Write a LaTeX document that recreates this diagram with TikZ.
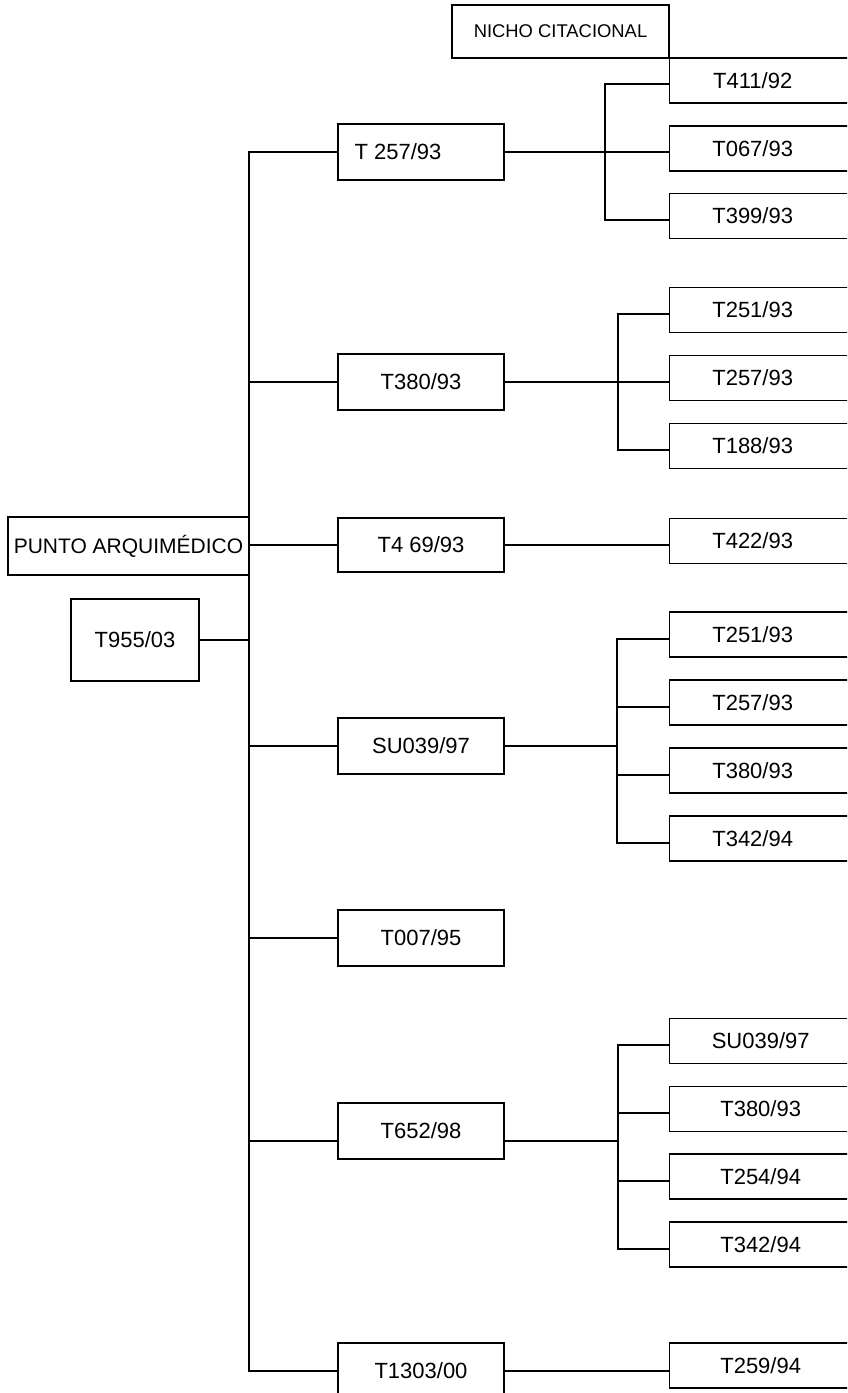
\documentclass[tikz,border=0pt]{standalone}
\usepackage{fontspec}
\setmainfont{Liberation Sans}
\newcommand\rl[1]{\makebox[166pt]{#1}\hspace*{80pt}}
\newcommand\rlb[1]{\makebox[182pt]{#1}\hspace*{64pt}}
\begin{document}
\begin{tikzpicture}[x=1pt,y=-1pt, line width=1.4pt,
  box/.style={draw, line width=1.4pt, inner sep=0pt, font=\fontsize{22}{26}\selectfont},
  mbox/.style={box, minimum width=166pt, minimum height=55pt},
  rbox/.style={box, anchor=west, minimum height=45pt}]
\useasboundingbox (0,0) rectangle (847,1393);
\clip (0,0) rectangle (847,1393);
\coordinate (trunk) at (249,0);

% left boxes
\node[box, minimum width=217pt, minimum height=53pt, font=\fontsize{18.4}{22}\selectfont] (nicho) at (560.5,31.5) {NICHO CITACIONAL};
\node[box, minimum width=241pt, minimum height=58pt, font=\fontsize{21}{25}\selectfont] (punto) at (128.5,546) {PUNTO ARQUIMÉDICO};
\node[box, minimum width=128pt, minimum height=82pt] (t955) at (135,640) {T955/03};

% main column
\node[mbox, minimum height=56pt] (m1) at (421,152) {T 257/93\hspace*{46pt}};
\node[mbox, minimum height=56pt] (m2) at (421,382) {T380/93};
\node[mbox, minimum height=54pt] (m3) at (421,545) {T4 69/93};
\node[mbox, minimum height=56pt] (m4) at (421,746) {SU039/97};
\node[mbox, minimum height=56pt] (m5) at (421,938) {T007/95};
\node[mbox, minimum height=56pt] (m6) at (421,1131) {T652/98};
\node[mbox, minimum height=56pt] (m7) at (421,1371) {T1303/00};
\coordinate (l6) at (0,1141);

% trunk
\draw (m1.west) -- (m1.west -| trunk) -- (m7.west -| trunk) -- (m7.west);
\foreach \n in {m2,m4,m5} \draw (\n.west) -- (\n.west -| trunk);
\draw (trunk |- l6) -- (m6.west |- l6);
\draw (m3.west -| punto.east) -- (m3.west);
\draw (t955.east) -- (t955.east -| trunk);

% group 1
\node[rbox] (a1) at (669,80.5) {\rl{T411/92}};
\node[rbox] (a2) at (669,148.5) {\rl{T067/93}};
\node[rbox] (a3) at (669,216) {\rl{T399/93}};
\coordinate (g1a) at (605,84);
\coordinate (g1c) at (605,220);
\draw (g1a -| a1.west) -- (g1a) -- (g1c) -- (g1c -| a3.west);
\draw (m1.east) -- (m1.east -| a2.west);

% group 2
\node[rbox] (b1) at (669,310) {\rl{T251/93}};
\node[rbox] (b2) at (669,378) {\rl{T257/93}};
\node[rbox] (b3) at (669,446) {\rl{T188/93}};
\coordinate (g2a) at (618,314);
\coordinate (g2c) at (618,450);
\draw (g2a -| b1.west) -- (g2a) -- (g2c) -- (g2c -| b3.west);
\draw (m2.east) -- (m2.east -| b2.west);

% group 3
\node[rbox] (c1) at (669,541) {\rl{T422/93}};
\draw (m3.east) -- (m3.east -| c1.west);

% group 4
\node[rbox] (d1) at (669,634.5) {\rl{T251/93}};
\node[rbox] (d2) at (669,702.5) {\rl{T257/93}};
\node[rbox] (d3) at (669,770.5) {\rl{T380/93}};
\node[rbox] (d4) at (669,838.5) {\rl{T342/94}};
\coordinate (g4a) at (617,639);
\coordinate (g4b) at (617,707);
\coordinate (g4c) at (617,775);
\coordinate (g4d) at (617,843);
\draw (g4a -| d1.west) -- (g4a) -- (g4d) -- (g4d -| d4.west);
\draw (g4b) -- (g4b -| d2.west);
\draw (g4c) -- (g4c -| d3.west);
\draw (m4.east) -- (m4.east -| g4a);

% group 6
\node[rbox] (f1) at (669,1041) {\rlb{SU039/97}};
\node[rbox] (f2) at (669,1109) {\rlb{T380/93}};
\node[rbox] (f3) at (669,1176.5) {\rlb{T254/94}};
\node[rbox] (f4) at (669,1244.5) {\rlb{T342/94}};
\coordinate (g6a) at (618,1045);
\coordinate (g6b) at (618,1113);
\coordinate (g6c) at (618,1181);
\coordinate (g6d) at (618,1249);
\draw (g6a -| f1.west) -- (g6a) -- (g6d) -- (g6d -| f4.west);
\draw (g6b) -- (g6b -| f2.west);
\draw (g6c) -- (g6c -| f3.west);
\draw (m6.east |- l6) -- (g6a |- l6);

% group 7
\node[rbox] (e1) at (669,1365.5) {\rlb{T259/94}};
\draw (m7.east) -- (m7.east -| e1.west);
\end{tikzpicture}
\end{document}
